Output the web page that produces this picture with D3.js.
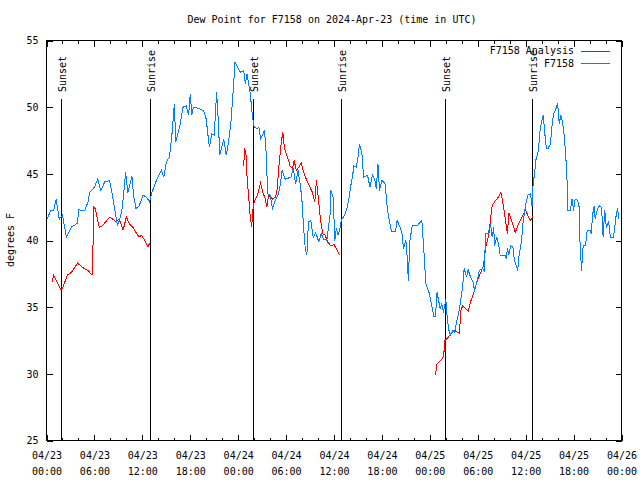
<!DOCTYPE html>
<html>
<head>
<meta charset="utf-8">
<script src="https://cdn.jsdelivr.net/npm/d3@7"></script>
<style>
  html, body { margin: 0; padding: 0; background: #fff; }
  svg { display: block; }
  text { font-family: "DejaVu Sans Mono", "Liberation Mono", monospace; font-size: 10px; fill: #000; }
</style>
</head>
<body>
<svg id="chart" width="640" height="480"></svg>
<script>
// ---- data (hours since 2024-04-23 00:00 UTC) ----
const blueHours = [0.1,0.5,0.9,1.2,1.6,2.0,2.5,3.1,3.9,4.0,4.8,5.2,5.4,6.0,6.4,6.8,7.3,7.9,8.3,8.6,8.9,9.4,9.6,9.9,10.2,10.4,10.7,10.9,11.2,11.6,12.1,12.5,12.9,13.2,13.6,13.9,14.4,14.7,15.0,15.4,15.7,16.0,16.2,16.7,17.1,17.5,17.8,18.0,18.2,18.4,19.1,19.7,20.0,20.2,20.4,20.7,21.0,21.3,21.5,21.7,22.2,22.5,22.8,23.1,23.4,23.6,23.9,24.3,24.7,24.9,25.1,25.5,25.8,26.0,26.4,26.6,26.8,27.3,27.5,27.7,28.0,28.3,28.7,29.0,29.2,29.5,29.9,30.6,30.9,31.2,31.5,31.8,32.0,32.2,32.4,32.6,32.8,33.1,33.4,33.7,34.1,34.4,34.7,35.1,35.5,35.6,35.9,36.1,36.3,36.5,36.8,36.9,37.4,37.7,37.9,38.1,38.3,38.5,38.8,39.0,39.2,39.5,39.7,40.2,40.5,40.8,41.1,41.3,41.5,41.7,42.0,42.4,42.7,42.9,43.2,43.7,43.9,44.2,44.5,44.7,45.0,45.2,45.3,45.5,45.8,46.4,47.0,47.2,47.5,47.9,48.2,48.5,48.7,48.9,49.1,49.3,49.5,49.7,50.0,50.2,50.4,50.6,50.9,51.1,51.4,51.6,51.8,52.1,52.3,52.6,52.8,53.1,53.4,53.6,53.9,54.2,54.6,54.8,55.0,55.3,55.6,55.8,56.0,56.1,56.4,56.6,56.8,57.4,57.6,57.7,57.9,58.1,58.4,58.6,59.0,59.2,59.5,59.6,59.9,60.1,60.3,60.6,60.8,60.9,61.1,61.3,61.6,61.8,62.0,62.2,62.4,62.6,62.8,63.1,63.3,63.5,63.8,64.0,64.2,64.4,64.6,64.8,65.0,65.2,65.3,65.6,65.8,66.0,66.2,66.5,66.7,66.8,67.0,67.2,67.5,67.7,68.1,68.2,68.4,68.6,68.7,69.0,69.2,69.5,69.7,69.9,70.1,70.4,70.6,71.0,71.3,71.5,71.7];
const blueValues = [41.6,42.25,42.25,43.1,41.6,41.9,40.25,41.0,41.3,42.3,42.25,42.9,43.6,44.0,44.6,43.75,44.4,44.5,43.25,42.1,41.1,42.1,43.1,45.1,43.6,44.1,44.8,43.4,42.4,42.6,43.4,43.25,42.9,43.6,44.25,44.7,45.25,44.75,45.9,46.25,47.9,50.2,47.4,48.6,50.0,50.1,49.4,51.0,49.4,50.0,49.9,49.7,49.1,48.0,47.0,48.0,47.9,51.1,49.1,46.4,47.6,46.4,47.4,48.9,51.4,53.4,53.0,52.6,52.75,51.75,52.5,51.1,49.25,48.5,48.4,48.5,47.6,48.25,46.6,43.5,43.4,42.4,43.1,43.4,43.9,45.25,44.6,44.75,45.4,44.25,45.25,44.1,42.9,40.9,39.4,38.9,41.4,41.5,40.25,40.6,39.9,40.5,40.1,40.0,41.9,43.75,43.25,40.0,40.9,40.4,41.0,41.5,42.0,42.6,43.25,44.1,44.75,45.6,45.5,46.25,47.25,46.5,44.75,44.9,44.0,44.9,44.6,43.9,45.75,43.75,44.5,44.25,42.25,41.6,40.7,40.7,41.5,41.1,40.6,39.4,40.0,38.5,37.0,40.0,41.1,41.1,41.5,39.75,36.75,36.1,35.25,34.3,34.3,36.1,35.5,34.9,35.25,34.6,35.6,34.0,33.25,32.9,33.25,33.1,34.0,34.5,35.25,36.5,37.9,37.25,37.8,37.25,36.9,36.25,36.9,37.75,37.9,37.75,40.5,40.5,41.25,40.25,41.0,39.6,40.25,39.75,38.9,38.9,38.6,39.4,38.9,39.6,39.5,38.5,37.75,39.0,40.0,41.0,42.25,43.0,43.4,43.5,42.6,44.0,45.0,46.1,46.75,48.25,48.9,49.4,48.0,46.9,46.9,47.25,48.6,49.5,49.9,50.3,48.75,49.4,48.9,48.0,46.6,44.25,42.25,42.25,43.1,42.25,43.1,43.0,42.5,39.9,37.75,39.6,39.6,40.75,40.75,40.5,42.0,42.6,41.6,42.4,42.6,42.5,40.25,42.25,41.0,41.4,40.25,40.25,41.75,42.4,41.6];

// Analysis series; null marks a gap
const redHours = [0.7,0.9,1.3,1.8,2.0,2.6,3.1,3.9,4.7,5.2,5.7,5.8,5.9,6.1,6.6,7.0,7.9,8.3,8.7,9.1,9.4,9.6,10.0,10.4,10.8,11.2,11.6,11.9,12.3,12.7,12.9,
  null,
  24.7,24.8,25.0,25.1,25.3,25.5,25.7,25.8,26.0,26.4,26.8,27.1,27.4,27.6,27.8,28.3,28.7,28.9,29.1,29.4,29.6,29.8,30.1,30.5,30.8,31.0,31.3,31.6,31.9,32.2,32.6,32.8,33.3,33.6,33.8,34.0,34.3,34.6,34.9,35.2,35.6,36.0,36.4,36.7,
  null,
  48.7,48.9,49.5,49.7,49.8,49.9,50.3,50.8,51.1,51.7,51.9,52.1,52.8,53.1,53.5,53.9,54.3,54.7,55.0,55.4,55.6,55.8,56.2,56.6,56.9,57.1,57.3,57.6,57.7,57.9,58.3,58.7,59.1,59.6,60.0,60.3,60.6,60.9];
const redValues = [36.9,37.4,36.9,36.3,36.4,37.4,37.6,38.3,37.9,37.75,37.4,38.75,42.5,42.4,41.0,41.1,41.75,41.6,41.4,41.6,41.1,40.8,41.75,41.25,41.0,40.6,40.25,40.4,40.0,39.5,39.8,
  null,
  45.6,46.9,46.4,44.9,43.4,41.9,41.0,42.1,42.9,43.4,44.3,43.6,43.1,42.5,43.4,43.1,43.25,43.9,45.6,47.4,48.1,46.9,46.4,45.6,45.4,46.0,45.25,45.5,45.8,45.1,44.5,44.25,43.6,42.9,44.5,43.4,41.6,40.5,40.4,39.9,39.6,39.7,39.25,38.9,
  null,
  29.9,30.75,31.1,31.3,31.8,32.5,32.75,33.1,33.25,33.05,34.75,35.1,34.7,35.4,36.1,36.9,37.5,38.1,39.5,40.5,41.6,42.6,43.0,43.25,43.6,43.0,42.25,41.0,40.5,42.05,41.4,40.6,41.25,41.8,42.3,41.8,41.5,41.8];

const sunEventHours = [1.9, 13.0, 25.9, 36.95, 49.9, 60.9];
const sunEventLabels = ["Sunset", "Sunrise", "Sunset", "Sunrise", "Sunset", "Sunrise"];

const yTicks = [25, 30, 35, 40, 45, 50, 55];
const majorTickHours = [0, 6, 12, 18, 24, 30, 36, 42, 48, 54, 60, 66, 72];
const minorTickHours = [2, 4, 8, 10, 14, 16, 20, 22, 26, 28, 32, 34, 38, 40, 44, 46, 50, 52, 56, 58, 62, 64, 68, 70];

const seriesNames = ["F7158 Analysis", "F7158"];
const seriesColors = ["#ff0000", "#0080ff"];

const titleText = "Dew Point for F7158 on 2024-Apr-23 (time in UTC)";
const yLabelText = "degrees F";

// ---- chart ----
const base = Date.UTC(2024, 3, 23, 0, 0);
const toDate = h => new Date(base + h * 3600000);

const L = 46.5, R = 621.5, T = 40.5, B = 440.5;
const svg = d3.select("#chart");

const x = d3.scaleUtc().domain([toDate(0), toDate(72)]).range([L, R]);
const y = d3.scaleLinear().domain([25, 55]).range([B, T]);

const fmtTop = d3.utcFormat("%m/%d");
const fmtBot = d3.utcFormat("%H:%M");

// title
svg.append("text").attr("x", 332).attr("y", 23).attr("text-anchor", "middle").text(titleText);

// y label
svg.append("text")
  .attr("transform", "translate(14,240) rotate(-90)")
  .attr("text-anchor", "middle").text(yLabelText);

// axes: left (labels), right (mirror)
svg.append("g").attr("transform", `translate(${L},0)`)
  .call(d3.axisLeft(y).tickValues(yTicks).tickSize(-6).tickPadding(8).tickFormat(d3.format("d")));
svg.append("g").attr("transform", `translate(${R},0)`)
  .call(d3.axisRight(y).tickValues(yTicks).tickSize(-6).tickFormat(""));

// bottom major + minor, top major + minor
const gBottom = svg.append("g").attr("transform", `translate(0,${B})`)
  .call(d3.axisBottom(x).tickValues(majorTickHours.map(toDate)).tickSize(-6).tickPadding(10).tickFormat(d => ""));
svg.append("g").attr("transform", `translate(0,${B})`)
  .call(d3.axisBottom(x).tickValues(minorTickHours.map(toDate)).tickSize(-3).tickFormat(""));
svg.append("g").attr("transform", `translate(0,${T})`)
  .call(d3.axisTop(x).tickValues(majorTickHours.map(toDate)).tickSize(-6).tickFormat(""));
svg.append("g").attr("transform", `translate(0,${T})`)
  .call(d3.axisTop(x).tickValues(minorTickHours.map(toDate)).tickSize(-3).tickFormat(""));

// two-line bottom labels
gBottom.selectAll(".tick").each(function(d) {
  const t = d3.select(this).select("text");
  t.text(null).attr("y", null).attr("dy", null);
  t.append("tspan").attr("x", 0).attr("y", 18).text(fmtTop(d));
  t.append("tspan").attr("x", 0).attr("y", 34).text(fmtBot(d));
});

svg.selectAll(".domain").remove();
svg.selectAll(".tick line").attr("stroke", "#000").attr("shape-rendering", "crispEdges");
svg.selectAll(".tick text").attr("font-family", "DejaVu Sans Mono").attr("font-size", 10).attr("fill", "#000");

// border
svg.append("rect").attr("x", L).attr("y", T).attr("width", R - L).attr("height", B - T)
  .attr("fill", "none").attr("stroke", "#000").attr("shape-rendering", "crispEdges");

// sunrise / sunset markers
sunEventHours.forEach((h, i) => {
  const px = Math.floor(x(toDate(h))) + 0.5;
  svg.append("line").attr("x1", px).attr("x2", px).attr("y1", 99).attr("y2", B)
    .attr("stroke", "#000").attr("shape-rendering", "crispEdges");
  svg.append("text")
    .attr("transform", `translate(${px + 0.5},92) rotate(-90)`)
    .attr("text-anchor", "start").attr("dominant-baseline", "central")
    .text(sunEventLabels[i]);
});

// lines
const redData = redHours.map((h, i) => ({ h, v: redValues[i] }));
const blueData = blueHours.map((h, i) => ({ h, v: blueValues[i] }));
const line = d3.line()
  .defined(d => d.h !== null && d.v !== null)
  .x(d => x(toDate(d.h))).y(d => y(d.v));

svg.append("path").datum(redData).attr("d", line)
  .attr("fill", "none").attr("stroke", seriesColors[0]).attr("stroke-width", 1)
  .attr("shape-rendering", "crispEdges");
svg.append("path").datum(blueData).attr("d", line)
  .attr("fill", "none").attr("stroke", seriesColors[1]).attr("stroke-width", 1)
  .attr("shape-rendering", "crispEdges");

// legend
seriesNames.forEach((name, i) => {
  const ly = 50.5 + i * 12.5;
  svg.append("text").attr("x", 574).attr("y", ly).attr("text-anchor", "end")
    .attr("dominant-baseline", "central").text(name);
  svg.append("line").attr("x1", 581).attr("x2", 610).attr("y1", Math.round(ly) + 0.5).attr("y2", Math.round(ly) + 0.5)
    .attr("stroke", seriesColors[i]).attr("stroke-width", 1.2).attr("shape-rendering", "crispEdges");
});
</script>
</body>
</html>
